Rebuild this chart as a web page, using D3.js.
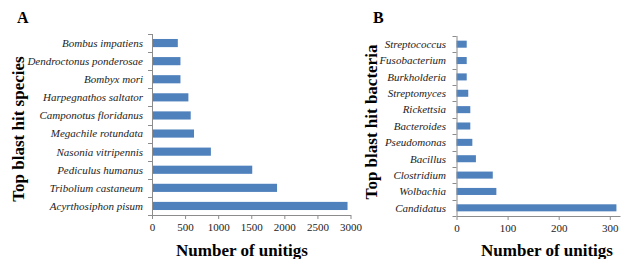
<!DOCTYPE html>
<html>
<head>
<meta charset="utf-8">
<script src="https://cdn.jsdelivr.net/npm/d3@7"></script>
<style>
  body { margin: 0; background: #fff; }
</style>
</head>
<body>
<div id="chart"></div>
<script>
// Panel A data (top to bottom)
var speciesNames = ["Bombus impatiens", "Dendroctonus ponderosae", "Bombyx mori",
  "Harpegnathos saltator", "Camponotus floridanus", "Megachile rotundata",
  "Nasonia vitripennis", "Pediculus humanus", "Tribolium castaneum", "Acyrthosiphon pisum"];
var speciesCounts = [390, 430, 430, 550, 585, 635, 890, 1515, 1890, 2955];
var speciesTicks = [0, 500, 1000, 1500, 2000, 2500, 3000];

// Panel B data (top to bottom)
var bacteriaNames = ["Streptococcus", "Fusobacterium", "Burkholderia", "Streptomyces",
  "Rickettsia", "Bacteroides", "Pseudomonas", "Bacillus", "Clostridium", "Wolbachia", "Candidatus"];
var bacteriaCounts = [20, 20, 20, 23, 27, 27, 31, 38, 71, 78, 313];
var bacteriaTicks = [0, 100, 200, 300];

var serif = "'Liberation Serif', 'Times New Roman', serif";

var svg = d3.select("#chart").append("svg")
  .attr("width", 623)
  .attr("height", 259)
  .attr("font-family", serif);

function drawPanel(opts) {
  var x = d3.scaleLinear().domain(opts.domain).range([opts.left, opts.right]);
  var y = d3.scaleBand().domain(opts.names).range([opts.top, opts.bottom]).paddingInner(opts.pad).paddingOuter(opts.pad / 2);
  var g = svg.append("g");

  g.selectAll("rect")
    .data(opts.names)
    .enter()
    .append("rect")
    .attr("x", x(0))
    .attr("y", d => y(d))
    .attr("width", (d, i) => x(opts.values[i]) - x(0))
    .attr("height", y.bandwidth())
    .attr("fill", "#4f81bd");

  // y axis (category ticks at band edges)
  var edges = opts.names.map(d => y(d) - y.step() * y.paddingInner() / 2).concat([opts.bottom]);
  g.append("line")
    .attr("x1", x(0) + 0.5).attr("x2", x(0) + 0.5)
    .attr("y1", opts.top).attr("y2", opts.bottom)
    .attr("stroke", "#8c8c8c");
  g.selectAll(".ytick")
    .data(edges)
    .enter()
    .append("line")
    .attr("x1", x(0) - 4).attr("x2", x(0))
    .attr("y1", d => Math.round(d) + 0.5).attr("y2", d => Math.round(d) + 0.5)
    .attr("stroke", "#8c8c8c");

  g.selectAll(".ylab")
    .data(opts.names)
    .enter()
    .append("text")
    .attr("x", opts.labelX)
    .attr("y", d => y(d) + y.bandwidth() / 2)
    .attr("dy", "0.35em")
    .attr("text-anchor", "end")
    .attr("font-family", serif)
    .attr("font-style", "italic")
    .attr("font-size", 11)
    .attr("fill", "#222")
    .text(d => d);

  // x axis
  var xAxis = g.append("g")
    .attr("transform", `translate(0, ${opts.bottom})`)
    .call(d3.axisBottom(x).tickValues(opts.ticks).tickFormat(d3.format("d")).tickSize(4).tickSizeOuter(0));
  xAxis.attr("font-family", serif).attr("font-size", 11);
  xAxis.select(".domain").attr("stroke", "#8c8c8c");
  xAxis.selectAll(".tick line").attr("stroke", "#8c8c8c");
  xAxis.selectAll("text")
    .attr("fill", "#222")
    .attr("y", 8);

  g.append("text")
    .attr("x", opts.panelX).attr("y", 23)
    .attr("font-family", serif)
    .attr("font-weight", "bold").attr("font-size", 16)
    .text(opts.panel);

  g.append("text")
    .attr("transform", `translate(${opts.yTitleX}, ${opts.yTitleY}) rotate(-90)`)
    .attr("text-anchor", "middle")
    .attr("font-family", serif)
    .attr("font-weight", "bold").attr("font-size", 17)
    .text(opts.yTitle);

  g.append("text")
    .attr("x", opts.xTitleX).attr("y", 256)
    .attr("text-anchor", "middle")
    .attr("font-family", serif)
    .attr("font-weight", "bold").attr("font-size", 17)
    .text("Number of unitigs");
}

drawPanel({
  names: speciesNames, values: speciesCounts, ticks: speciesTicks,
  domain: [0, 3000], left: 152, right: 350.5, top: 34, bottom: 215, pad: 0.55,
  labelX: 143, panel: "A", panelX: 17, yTitle: "Top blast hit species",
  yTitleX: 24, yTitleY: 129, xTitleX: 242
});

drawPanel({
  names: bacteriaNames, values: bacteriaCounts, ticks: bacteriaTicks,
  domain: [0, 320], left: 456.5, right: 620, top: 36, bottom: 216, pad: 0.57,
  labelX: 446, panel: "B", panelX: 373, yTitle: "Top blast hit bacteria",
  yTitleX: 377, yTitleY: 122, xTitleX: 547
});
</script>
</body>
</html>
